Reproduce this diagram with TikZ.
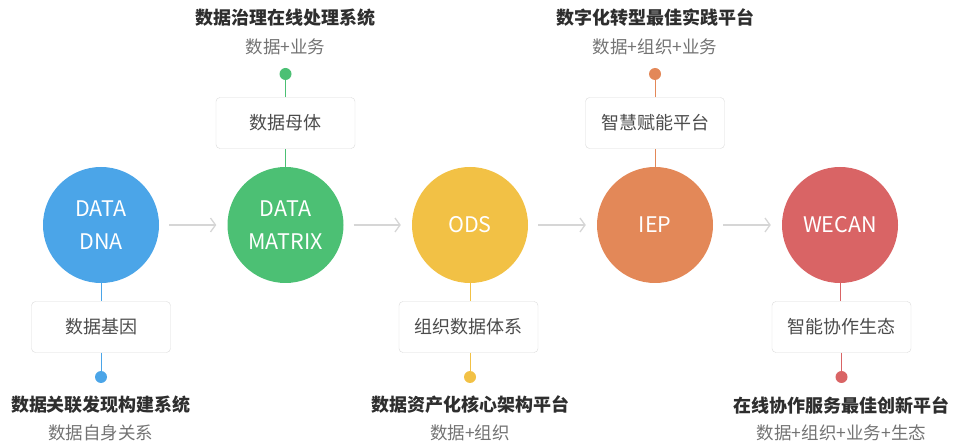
\documentclass[tikz,border=0pt]{standalone}
\usepackage{fontspec}
\setmainfont{Noto Sans CJK SC}
\usetikzlibrary{arrows.meta}
\definecolor{cblue}{HTML}{4BA5E8}
\definecolor{cgreen}{HTML}{4CC074}
\definecolor{cyellow}{HTML}{F2C145}
\definecolor{corange}{HTML}{E38858}
\definecolor{cred}{HTML}{D96465}
\tikzset{
  stage/.style={circle,minimum size=116pt,inner sep=0pt,text=white,align=center,font=\fontsize{21.5}{33}\selectfont},
  tagbox/.style={draw=black!14,fill=white,rounded corners=4pt,minimum width=139pt,minimum height=51pt,inner sep=0pt,text=black!70,font=\fontsize{18}{20}\selectfont},
  pin/.style={circle,minimum size=12pt,inner sep=0pt},
  title/.style={font=\fontsize{18}{20}\selectfont\bfseries,text=black!82},
  sub/.style={font=\fontsize{17.5}{20}\selectfont,text=black!55},
  flow/.style={draw=black!16,line width=1.3pt,-{Straight Barb[length=5pt,width=14pt]}}
}
\begin{document}
\begin{tikzpicture}[x=1pt,y=-1pt]
\useasboundingbox (0,0) rectangle (954,446);
% stages
\node [stage,fill=cblue] (dna) at (101,225) {DATA\\DNA};
\node [stage,fill=cgreen] (matrix) at (285.5,225) {DATA\\MATRIX};
\node [stage,fill=cyellow] (ods) at (470,225) {ODS};
\node [stage,fill=corange] (iep) at (655,225) {IEP};
\node [stage,fill=cred] (wecan) at (840,225) {WECAN};
\draw [flow] ([xshift=10pt]dna.east) -- ([xshift=-11pt]matrix.west);
\draw [flow] ([xshift=10pt]matrix.east) -- ([xshift=-11pt]ods.west);
\draw [flow] ([xshift=10pt]ods.east) -- ([xshift=-11pt]iep.west);
\draw [flow] ([xshift=10pt]iep.east) -- ([xshift=-11pt]wecan.west);
% DATA DNA
\node [tagbox] (dnabox) at (101,327) {数据基因};
\node [pin,fill=cblue] (dnapin) at (101,377) {};
\draw [cblue,line width=1pt] (dna) -- (dnabox) (dnabox) -- (dnapin);
\node [title] (dnatitle) at (101,405) {数据关联发现构建系统};
\node [sub] (dnasub) at (101,433) {数据自身关系};
% DATA MATRIX
\node [tagbox] (matrixbox) at (285.5,123) {数据母体};
\node [pin,fill=cgreen] (matrixpin) at (285.5,74) {};
\draw [cgreen,line width=1pt] (matrix) -- (matrixbox) (matrixbox) -- (matrixpin);
\node [title] (matrixtitle) at (285.5,18) {数据治理在线处理系统};
\node [sub] (matrixsub) at (285.5,47) {数据+业务};
% ODS
\node [tagbox] (odsbox) at (468.5,327) {组织数据体系};
\node [pin,fill=cyellow] (odspin) at (470,377) {};
\draw [cyellow,line width=1pt] (ods) -- (ods|-odsbox.north) (ods|-odsbox.south) -- (odspin);
\node [title] (odstitle) at (470,405) {数据资产化核心架构平台};
\node [sub] (odssub) at (470,433) {数据+组织};
% IEP
\node [tagbox] (iepbox) at (655,123) {智慧赋能平台};
\node [pin,fill=corange] (ieppin) at (655,74) {};
\draw [corange,line width=1pt] (iep) -- (iepbox) (iepbox) -- (ieppin);
\node [title] (ieptitle) at (655,18) {数字化转型最佳实践平台};
\node [sub] (iepsub) at (655,47) {数据+组织+业务};
% WECAN
\node [tagbox] (wecanbox) at (841.5,327) {智能协作生态};
\node [pin,fill=cred] (wecanpin) at (841.5,377) {};
\draw [cred,line width=1pt] (wecan) -- (wecan|-wecanbox.north) (wecanbox) -- (wecanpin);
\node [title] (wecantitle) at (841.5,405) {在线协作服务最佳创新平台};
\node [sub] (wecansub) at (841.5,433) {数据+组织+业务+生态};
\end{tikzpicture}
\end{document}
